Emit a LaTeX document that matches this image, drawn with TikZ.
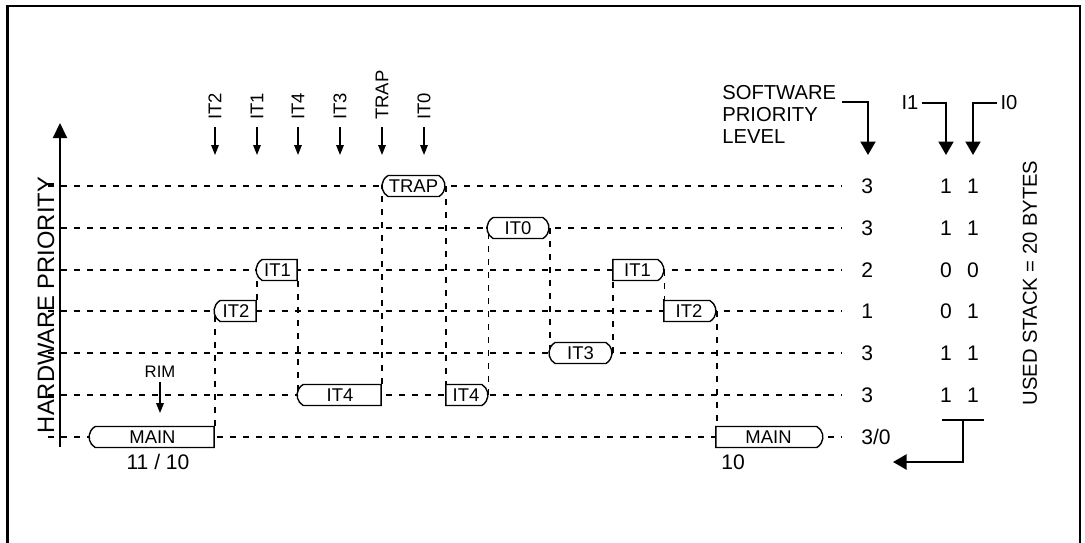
\documentclass[tikz,border=0pt]{standalone}
\usepackage{fontspec}
\setmainfont{Liberation Sans}
\usetikzlibrary{arrows.meta,shapes.misc,backgrounds}
\tikzset{
  outerframe/.style={line width=1.2pt},
  rowline/.style={line width=1pt, dash pattern=on 0.12cm off 0.14cm},
  jumpline/.style={line width=1pt, dash pattern=on 0.12cm off 0.14cm},
  isr/.style={rounded rectangle, rounded rectangle arc length=120, draw, fill=white,
    line width=0.8pt, minimum height=0.42cm, inner sep=0pt,
    font=\fontsize{10.5}{12}\selectfont},
  isrl/.style={isr, rounded rectangle east arc=none},
  isrr/.style={isr, rounded rectangle west arc=none},
  lbl/.style={inner sep=0pt, font=\fontsize{11.5}{12.5}\selectfont},
  toplbl/.style={rotate=90, anchor=west, inner sep=0pt, font=\fontsize{10.5}{12}\selectfont},
  val/.style={inner sep=0pt, font=\fontsize{12}{13}\selectfont},
  intarrow/.style={-{Triangle[length=0.2cm,width=0.15cm]}, line width=0.9pt},
  bigarrow/.style={-{Triangle[length=0.27cm,width=0.3cm]}, line width=1.2pt},
  axisarrow/.style={-{Triangle[length=0.3cm,width=0.28cm]}, line width=1.2pt},
}

\begin{document}
\begin{tikzpicture}[x=0.02cm, y=-0.02cm]
  \useasboundingbox (0,0) rectangle (1085,542);

  % ---------- frame ----------
  \draw[outerframe] (7.5,545) -- (7.5,6) -- (1080,6) -- (1080,545);

  % ---------- axis ----------
  \coordinate (axbot) at (60,447);
  \coordinate (axtop) at (60,123);
  \draw[axisarrow] (axbot) -- (axtop);
  \node[lbl, rotate=90, font=\fontsize{13.5}{15}\selectfont] (hwprio) at (46,305) {HARDWARE PRIORITY};

  % ---------- priority rows ----------
  \foreach \yy in {186,228,270,311,353,395,437}
    \draw[rowline] (48,\yy) -- (842,\yy);

  % ---------- interrupt requests ----------
  \foreach \lab/\xx in {IT2/215, IT1/257, IT4/298, IT3/340, TRAP/382, IT0/424} {
    \node[toplbl] (req\lab) at (\xx,120) {\lab};
    \draw[intarrow] ([yshift=-0.14cm]req\lab.west) -- ++(0,28);
  }
  \node[lbl, font=\fontsize{9.5}{11}\selectfont] (rim) at (160,372) {RIM};
  \draw[intarrow] ([yshift=-0.08cm]rim.south) -- ++(0,31);

  % ---------- routines ----------
  \node[isrl, minimum width=2.5cm]  (main1) at (152.5,437) {MAIN};
  \node[isrl, minimum width=0.84cm] (it2a)  at (236,311)   {IT2};
  \node[isrl, minimum width=0.82cm] (it1a)  at (277.5,270) {IT1};
  \node[isrl, minimum width=1.68cm] (it4a)  at (340,395)   {IT4};
  \node[isr,  minimum width=1.26cm] (trap)  at (413.5,186) {TRAP};
  \node[isrr, minimum width=0.84cm] (it4b)  at (466,395)   {IT4};
  \node[isr,  minimum width=1.24cm] (it0)   at (518,228)   {IT0};
  \node[isr,  minimum width=1.26cm] (it3)   at (580.5,353) {IT3};
  \node[isrr, minimum width=1.02cm] (it1b)  at (637.5,270) {IT1};
  \node[isrr, minimum width=1.04cm] (it2b)  at (689,311)   {IT2};
  \node[isrr, minimum width=2.14cm] (main2) at (768.5,437) {MAIN};

  \node[val] (cnt1) at (158,462) {11 / 10};
  \node[val] (cnt2) at (733,462) {10};

  % ---------- context switches ----------
  \begin{scope}[on background layer]
    \draw[jumpline] (main1.north east) |- (it2a.west);
    \draw[jumpline] (it2a.north east)  |- (it1a.west);
    \draw[jumpline] (it1a.south east)  |- (it4a.west);
    \draw[jumpline] (it4a.north east)  |- (trap.west);
    \draw[jumpline] (trap.east)        |- (it4b.north west);
    \draw[jumpline] (it4b.east)        |- (it0.west);
    \draw[jumpline] (it0.east)         |- (it3.west);
    \draw[jumpline] (it3.east)         |- (it1b.south west);
    \draw[jumpline] (it1b.east)        |- (it2b.north west);
    \draw[jumpline] (it2b.east)        |- (main2.north west);
  \end{scope}

  % ---------- levels and I1 / I0 bits ----------
  \foreach \yy/\lv/\ia/\ib [count=\r] in {186/3/1/1, 228/3/1/1, 270/2/0/0,
                                          311/1/0/1, 353/3/1/1, 395/3/1/1} {
    \node[val, anchor=west] (lv\r) at (861,\yy) {\lv};
    \node[val] (ia\r) at (946,\yy) {\ia};
    \node[val] (ib\r) at (973,\yy) {\ib};
  }
  \node[val, anchor=west] (lv7) at (861,437) {3/0};

  % ---------- column heads ----------
  \node[lbl, anchor=north west, align=left] (swlevel) at (722,85) {SOFTWARE\\PRIORITY\\LEVEL};
  \node[lbl] (i1) at (910,103) {I1};
  \node[lbl] (i0) at (1009,103) {I0};
  \coordinate (lvhead) at (868,155);
  \coordinate (iahead) at (946,155);
  \coordinate (ibhead) at (973,155);
  \draw[bigarrow] ([shift={(6,17)}]swlevel.north east) -| (lvhead);
  \draw[bigarrow] ([xshift=2pt]i1.east) -| (iahead);
  \draw[bigarrow] ([xshift=-2pt]i0.west) -| (ibhead);

  % ---------- stack ----------
  \coordinate (stackl) at (942,420);
  \coordinate (stackr) at (984,420);
  \coordinate (stackmid) at (963,420);
  \coordinate (backtip) at (893,462);
  \draw[line width=1.2pt] (stackl) -- (stackr);
  \draw[bigarrow] (stackmid) |- (backtip);
  \node[lbl, rotate=90] (stack) at (1030,283) {USED STACK = 20 BYTES};

\end{tikzpicture}
\end{document}
